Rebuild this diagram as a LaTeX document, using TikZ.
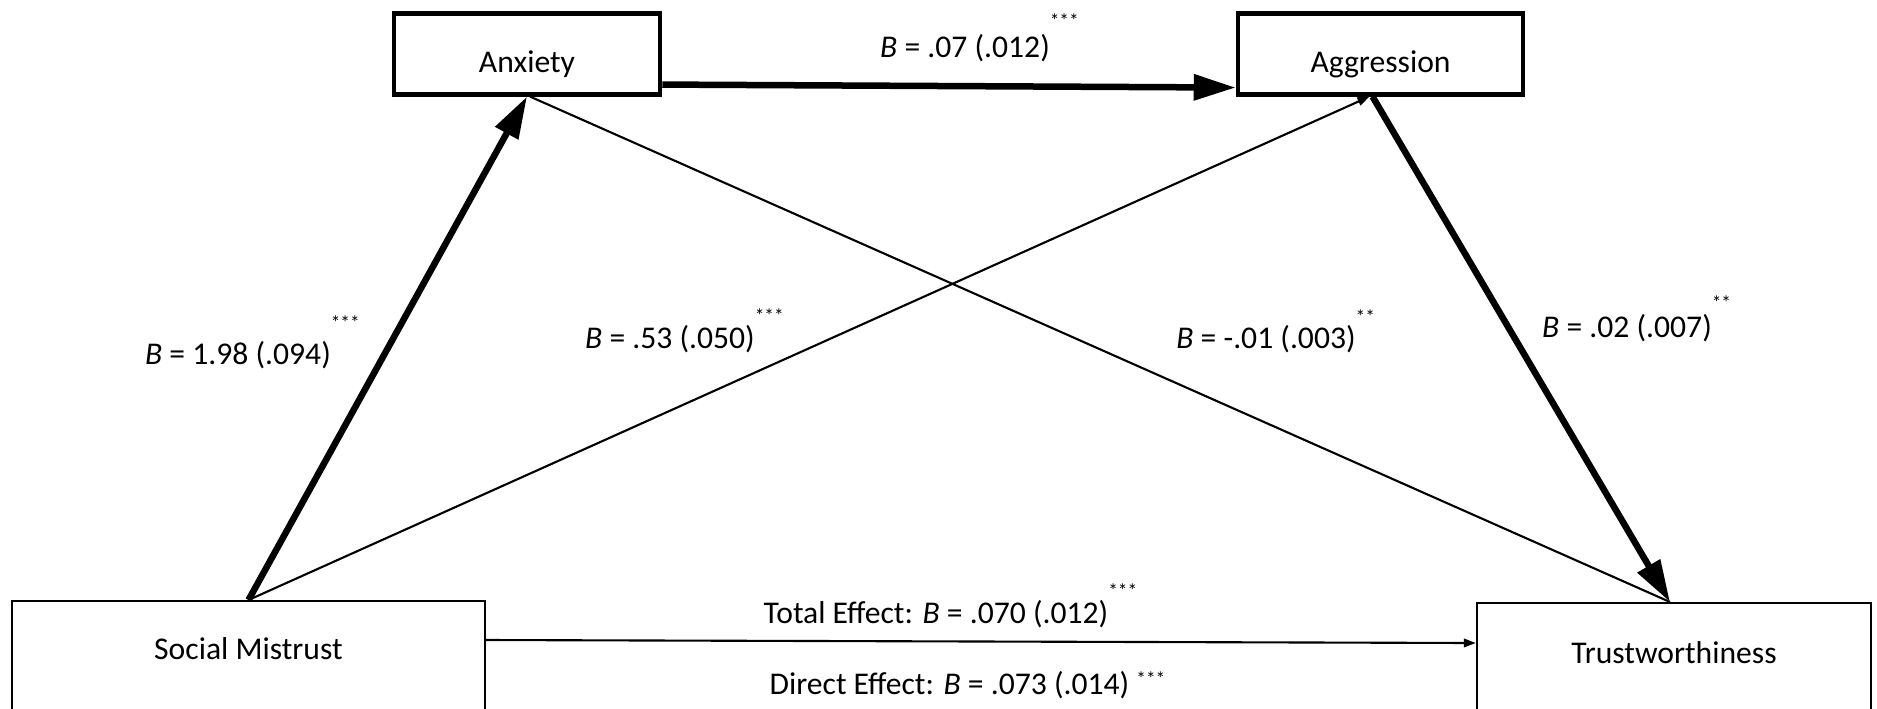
\documentclass[tikz,border=0pt]{standalone}
\usepackage{fontspec}
\setmainfont{Carlito}
\usetikzlibrary{arrows.meta,calc}
\newcommand{\sigstars}[2]{\rlap{\smash{\raisebox{#1}{\fontsize{11}{11}\selectfont #2}}}}
\begin{document}
\begin{tikzpicture}[x=0.02cm,y=-0.02cm,
  box/.style={draw, rectangle, inner xsep=0pt, inner ysep=0pt, font=\fontsize{18}{22}\selectfont, anchor=north},
  topbox/.style={box, line width=2.6pt, text height=1.18cm, text depth=0.44cm},
  botbox/.style={box, line width=1.4pt},
  lbl/.style={font=\fontsize{18}{22}\selectfont, inner sep=0pt},
  heavyarrow/.style={line width=3.7pt, -{Triangle[length=0.84cm,width=0.5cm]}},
  lightarrow/.style={line width=1.2pt, -{Triangle[length=0.24cm,width=0.17cm]}},
  lightline/.style={line width=1.2pt}]
\clip (0,0) rectangle (1877,708);
\useasboundingbox (0,0) rectangle (1877,708);

% boxes
\node[topbox, minimum width=5.32cm] (anx) at (527,11) {Anxiety};
\node[topbox, minimum width=5.70cm] (agg) at (1380.5,11) {Aggression};
\node[botbox, minimum width=9.46cm, text height=1.16cm, text depth=1.44cm] (sm) at (248.5,600) {Social Mistrust};
\node[botbox, minimum width=7.88cm, text height=1.20cm, text depth=1.36cm] (tr) at (1674,602) {Trustworthiness};

% connectors
\draw[heavyarrow] ($(anx.south east)+(0,-12)$) -- ($(agg.south west)+(0,-9)$);
\draw[heavyarrow] (sm.north) -- (anx.south);
\draw[lightarrow] (sm.north) -- ($(agg.south)+(-11,0)$);
\draw[lightline] ($(anx.south)+(3,0)$) -- ($(tr.north)+(-4,0)$);
\draw[heavyarrow] ($(agg.south)+(-8,0)$) -- ($(tr.north)+(-4,0)$);
\draw[lightarrow] ($(sm.north east)+(0,40)$) -- ($(tr.north west)+(0,41)$);

% labels
\node[lbl] (l1) at (965,48) {\textit{B} = .07 (.012)\sigstars{17pt}{***}};
\node[lbl] (l2) at (238,355) {\textit{B} = 1.98 (.094)\sigstars{20pt}{***}};
\node[lbl] (l3) at (670,339) {\textit{B} = .53 (.050)\sigstars{15pt}{***}};
\node[lbl] (l4) at (1266,339) {\textit{B} = -.01 (.003)\sigstars{14pt}{**}};
\node[lbl] (l5) at (1627,328) {\textit{B} = .02 (.007)\sigstars{16pt}{**}};
\node[lbl] (l6) at (936,614) {Total Effect: \textit{B} = .070 (.012)\sigstars{15pt}{***}};
\node[lbl] (l7) at (953,685) {Direct Effect: \textit{B} = .073 (.014) \sigstars{5pt}{***}};
\end{tikzpicture}
\end{document}
